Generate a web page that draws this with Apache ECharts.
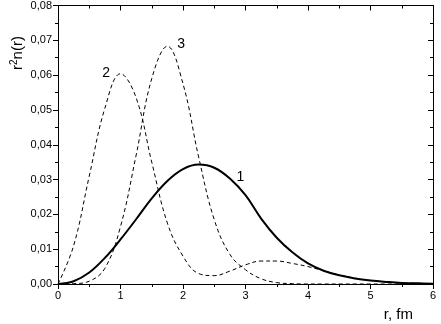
<!DOCTYPE html>
<html>
<head>
<meta charset="utf-8">
<script src="https://cdn.jsdelivr.net/npm/echarts@6/dist/echarts.min.js"></script>
<style>html,body{margin:0;padding:0;background:#fff}#c{width:441px;height:324px}</style>
</head>
<body>
<div id="c"></div>
<script>
var rGrid = [0,0.25,0.5,0.75,1,1.25,1.5,1.75,2,2.25,2.5,2.75,3,3.25,3.5,3.75,4,4.25,4.5,4.75,5,5.25,5.5,5.75,6];
var curve1 = [0,0.0008,0.0033,0.0075,0.0128,0.0186,0.0246,0.0296,0.0330,0.0343,0.0334,0.0303,0.0255,0.0188,0.0133,0.0091,0.0059,0.0038,0.0025,0.0016,0.0010,0.0006,0.0003,0.0002,0.0001];
var curve2 = [0,0.011,0.031,0.0505,0.0604,0.0535,0.035,0.0175,0.0080,0.0030,0.0024,0.0037,0.0055,0.0066,0.0066,0.0059,0.0050,0.0038,0.0026,0.0017,0.0010,0.0006,0.0003,0.0002,0.0001];
var curve3 = [0,0.0001,0.0008,0.0045,0.0165,0.037,0.059,0.0683,0.0575,0.0365,0.0185,0.0085,0.0041,0.0015,0.0004,0.0001,0,0,0,0,0,0,0,0,0];
var curveLabels = [
  {name:'1', coord:[2.92,0.0307]},
  {name:'2', coord:[0.77,0.0605]},
  {name:'3', coord:[1.97,0.0688]}
];
var xTicks = [0,1,2,3,4,5,6];

function pairs(ys){ return rGrid.map(function(r,i){return [r, ys[i]];}); }

var font = 'Liberation Sans, Arial, sans-serif';
var chart = echarts.init(document.getElementById('c'), null, {renderer:'canvas'});
var axisCommon = {
  axisLine:{show:true,onZero:false,lineStyle:{color:'#000',width:1}},
  splitLine:{show:false}
};
chart.setOption({
  animation:false,
  backgroundColor:'#fff',
  grid:{left:58,right:8,top:5,bottom:40,containLabel:false},
  xAxis:[
    Object.assign({type:'value',min:0,max:6,interval:1,position:'bottom',
      axisTick:{show:true,inside:false,length:5,lineStyle:{color:'#000'}},
      minorTick:{show:true,splitNumber:2,length:3,lineStyle:{color:'#000'}},
      axisLabel:{color:'#000',fontSize:11,fontFamily:font,margin:6,formatter:function(v){return String(v);}}
    },axisCommon),
    Object.assign({type:'value',min:0,max:6,interval:1,position:'top',
      axisTick:{show:true,inside:true,length:5,lineStyle:{color:'#000'}},
      minorTick:{show:true,splitNumber:2,length:3,lineStyle:{color:'#000'}},
      axisLabel:{show:false}
    },axisCommon)
  ],
  yAxis:[
    Object.assign({type:'value',min:0,max:0.08,interval:0.01,position:'left',
      axisTick:{show:true,inside:false,length:5,lineStyle:{color:'#000'}},
      minorTick:{show:true,splitNumber:2,length:3,lineStyle:{color:'#000'}},
      axisLabel:{color:'#000',fontSize:11,fontFamily:font,margin:6,formatter:function(v){return v.toFixed(2).replace('.',',');}}
    },axisCommon),
    Object.assign({type:'value',min:0,max:0.08,interval:0.01,position:'right',
      axisTick:{show:true,inside:true,length:5,lineStyle:{color:'#000'}},
      minorTick:{show:true,splitNumber:2,length:3,lineStyle:{color:'#000'}},
      axisLabel:{show:false}
    },axisCommon)
  ],
  series:[
    {type:'line',name:'1',data:pairs(curve1),smooth:0.4,showSymbol:false,symbol:'none',
      lineStyle:{color:'#000',width:2},clip:true,
      markPoint:{symbol:'circle',symbolSize:0,data:[curveLabels[0]],
        label:{show:true,formatter:'{b}',color:'#000',fontSize:14,fontFamily:font,position:'inside'}}},
    {type:'line',name:'2',data:pairs(curve2),smooth:0.4,showSymbol:false,symbol:'none',
      lineStyle:{color:'#000',width:1,type:[4,3]},clip:true,
      markPoint:{symbol:'circle',symbolSize:0,data:[curveLabels[1]],
        label:{show:true,formatter:'{b}',color:'#000',fontSize:14,fontFamily:font,position:'inside'}}},
    {type:'line',name:'3',data:pairs(curve3),smooth:0.4,showSymbol:false,symbol:'none',
      lineStyle:{color:'#000',width:1,type:[4,3]},clip:true,
      markPoint:{symbol:'circle',symbolSize:0,data:[curveLabels[2]],
        label:{show:true,formatter:'{b}',color:'#000',fontSize:14,fontFamily:font,position:'inside'}}}
  ],
  graphic:[
    {type:'text',x:9,y:70,rotation:Math.PI/2,
      style:{text:'{a|r}{s|2}{a|n(r)}',rich:{a:{fontSize:15,fontFamily:font,fill:'#000'},s:{fontSize:10,fontFamily:font,fill:'#000',verticalAlign:'top',padding:[0,0,8,0]}},fill:'#000'}},
    {type:'text',x:413,y:307,
      style:{text:'r, fm',fontSize:15,fontFamily:font,fill:'#000',align:'right'}}
  ]
});
</script>
</body>
</html>
